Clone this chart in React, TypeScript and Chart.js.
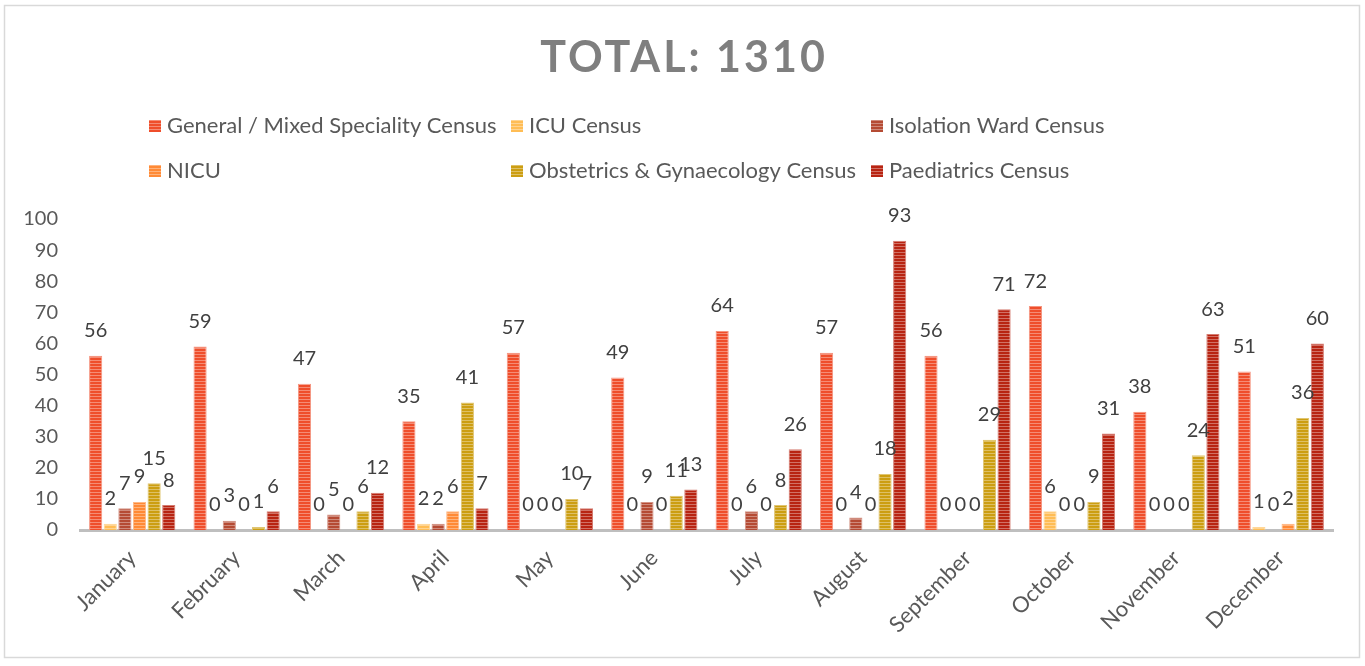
import React, { useEffect, useRef } from 'react';
import { Chart, registerables } from 'chart.js';

Chart.register(...registerables);

const months = ['January', 'February', 'March', 'April', 'May', 'June', 'July', 'August', 'September', 'October', 'November', 'December'];
const seriesNames = [
  'General / Mixed Speciality Census',
  'ICU Census',
  'Isolation Ward Census',
  'NICU',
  'Obstetrics & Gynaecology Census',
  'Paediatrics Census',
];
const generalCensus = [56, 59, 47, 35, 57, 49, 64, 57, 56, 72, 38, 51];
const icuCensus = [2, 0, 0, 2, 0, 0, 0, 0, 0, 6, 0, 1];
const isolationCensus = [7, 3, 5, 2, 0, 9, 6, 4, 0, 0, 0, 0];
const nicuCensus = [9, 0, 0, 6, 0, 0, 0, 0, 0, 0, 0, 2];
const obsGynCensus = [15, 1, 6, 41, 10, 11, 8, 18, 29, 9, 24, 36];
const paediatricsCensus = [8, 6, 12, 7, 7, 13, 26, 93, 71, 31, 63, 60];
const seriesValues = [generalCensus, icuCensus, isolationCensus, nicuCensus, obsGynCensus, paediatricsCensus];
const seriesColors = ['#EF4E2B', '#FFBD55', '#B54B34', '#FF8A36', '#CC9E12', '#B82412'];
const yTicks = [0, 10, 20, 30, 40, 50, 60, 70, 80, 90, 100];
const titleText = 'TOTAL: 1310';

const FONT = 'Lato, "Open Sans", sans-serif';

function lighten(hex: string, amt: number): string {
  const n = parseInt(hex.slice(1), 16);
  const r = (n >> 16) & 255, g = (n >> 8) & 255, b = n & 255;
  const f = (c: number) => Math.round(c + (255 - c) * amt);
  return `rgb(${f(r)},${f(g)},${f(b)})`;
}

function makePattern(ctx: CanvasRenderingContext2D, hex: string): CanvasPattern | string {
  const c = document.createElement('canvas');
  c.width = 4;
  c.height = 3;
  const p = c.getContext('2d');
  if (!p) return hex;
  p.fillStyle = hex;
  p.fillRect(0, 0, 4, 3);
  p.fillStyle = lighten(hex, 0.35);
  p.fillRect(0, 0, 4, 1);
  return ctx.createPattern(c, 'repeat') || hex;
}

export default function App() {
  const ref = useRef<HTMLCanvasElement>(null);
  useEffect(() => {
    const canvas = ref.current;
    if (!canvas) return;
    const ctx = canvas.getContext('2d');
    if (!ctx) return;
    const patterns = seriesColors.map((c) => makePattern(ctx, c));

    const overlay = {
      id: 'overlay',
      afterDatasetsDraw(chart: any) {
        const c = chart.ctx as CanvasRenderingContext2D;
        c.save();
        c.font = `20px ${FONT}`;
        c.fillStyle = '#404040';
        c.textAlign = 'center';
        c.textBaseline = 'middle';
        chart.data.datasets.forEach((ds: any, i: number) => {
          const meta = chart.getDatasetMeta(i);
          meta.data.forEach((el: any, j: number) => {
            c.fillText(String(ds.data[j]), el.x, el.y - 25);
          });
        });
        c.restore();
      },
      afterDraw(chart: any) {
        const c = chart.ctx as CanvasRenderingContext2D;
        c.save();
        // frame
        c.strokeStyle = '#D9D9D9';
        c.lineWidth = 1.5;
        c.strokeRect(4.5, 5.5, 1355, 652);
        // title
        c.fillStyle = '#7F7F7F';
        c.font = `bold 43px ${FONT}`;
        (c as any).letterSpacing = '3px';
        c.textAlign = 'center';
        c.textBaseline = 'alphabetic';
        c.fillText(titleText, 684, 72);
        (c as any).letterSpacing = '0px';
        // legend
        const colX = [149, 511, 871];
        const rowY = [126, 171];
        c.font = `22px ${FONT}`;
        c.textAlign = 'left';
        c.textBaseline = 'middle';
        chart.data.datasets.forEach((ds: any, i: number) => {
          const x = colX[i % 3];
          const y = rowY[Math.floor(i / 3)];
          c.fillStyle = ds.backgroundColor;
          c.fillRect(x, y - 6, 12, 12);
          c.fillStyle = '#595959';
          c.fillText(ds.label, x + 18, y);
        });
        c.restore();
      },
    };

    const chart = new Chart(ctx, {
      type: 'bar',
      data: {
        labels: months,
        datasets: seriesNames.map((name, i) => ({
          label: name,
          data: seriesValues[i],
          backgroundColor: patterns[i] as any,
          borderColor: lighten(seriesColors[i], 0.4),
          borderWidth: 1,
          categoryPercentage: 0.84,
          barPercentage: 0.9,
        })),
      },
      options: {
        responsive: false,
        animation: false,
        layout: { padding: { top: 219, left: 0, right: 32, bottom: 0 } },
        plugins: {
          legend: { display: false },
          title: { display: false },
          tooltip: { enabled: false },
        },
        scales: {
          x: {
            grid: { display: false, drawTicks: false },
            border: { display: true, color: '#BFBFBF', width: 3 },
            ticks: {
              color: '#595959',
              font: { family: FONT, size: 22 },
              maxRotation: 45,
              minRotation: 45,
              padding: 15,
            },
            afterFit: (s: any) => { s.height = 136; },
          },
          y: {
            min: 0,
            max: 100,
            afterBuildTicks: (s: any) => { s.ticks = yTicks.map((v) => ({ value: v })); },
            grid: { display: false, drawTicks: false },
            border: { display: false },
            ticks: {
              color: '#595959',
              font: { family: FONT, size: 20 },
              padding: 22,
            },
            afterFit: (s: any) => { s.width = 80; },
          },
        },
      },
      plugins: [overlay],
    });
    return () => chart.destroy();
  }, []);
  return (
    <div style={{ position: 'absolute', left: 0, top: 0, width: 1365, height: 666, background: '#fff' }}>
      <canvas ref={ref} width={1365} height={666} style={{ display: 'block' }} />
    </div>
  );
}
